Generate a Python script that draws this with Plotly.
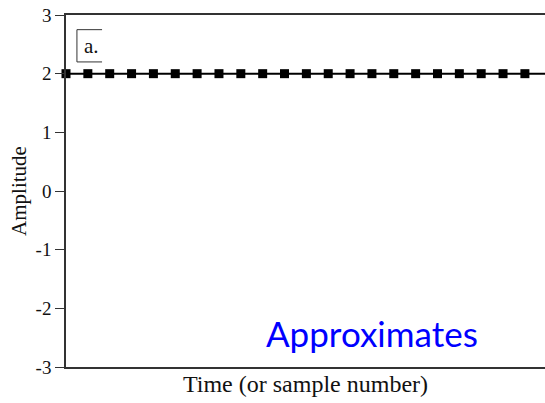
import plotly.graph_objects as go

sample_index = [0, 1, 2, 3, 4, 5, 6, 7, 8, 9, 10, 11, 12, 13, 14, 15, 16, 17, 18, 19, 20, 21, 22]
amplitude = [2, 2, 2, 2, 2, 2, 2, 2, 2, 2, 2, 2, 2, 2, 2, 2, 2, 2, 2, 2, 2, 2, 2]
y_ticks = [-3, -2, -1, 0, 1, 2, 3]
y_tick_labels = ["-3", "-2", "-1", "0", "1", "2", "3"]
panel_label = "a."
overlay_text = "Approximates"

fig = go.Figure()
fig.add_trace(go.Scatter(
    x=sample_index, y=amplitude, mode="lines+markers",
    line=dict(color="black", width=2),
    marker=dict(symbol="square", size=9, color="black"),
    cliponaxis=False, showlegend=False,
))

serif = "Liberation Serif, Times New Roman, serif"
fig.update_layout(
    width=545, height=403,
    margin=dict(l=66, r=0, t=15, b=36),
    paper_bgcolor="white", plot_bgcolor="white",
    xaxis=dict(range=[0, 21.92], showgrid=False, zeroline=False, showticklabels=False,
               ticks="", showline=True, linecolor="#333", linewidth=1.5, mirror=True,
               title=dict(text="Time (or sample number)", font=dict(family=serif, size=24, color="#111"), standoff=7)),
    yaxis=dict(range=[-3, 3], tickvals=y_ticks, ticktext=y_tick_labels, showgrid=False, zeroline=False,
               ticks="outside", ticklen=9, tickcolor="#333", tickwidth=1,
               showline=True, linecolor="#333", linewidth=1.5,
               tickfont=dict(family=serif, size=19, color="#111"),
               title=dict(text="Amplitude", font=dict(family=serif, size=21, color="#111"), standoff=3)),
)

# panel label box (open on the right)
box_x0, box_x1, box_y0, box_y1 = 0.5, 1.65, 2.2, 2.75
for (xa, ya, xb, yb) in [(box_x0, box_y1, box_x1, box_y1), (box_x0, box_y0, box_x1, box_y0), (box_x0, box_y0, box_x0, box_y1)]:
    fig.add_shape(type="line", x0=xa, y0=ya, x1=xb, y1=yb, xref="x", yref="y",
                  line=dict(color="#333", width=1))
fig.add_annotation(x=0.72, y=2.48, xref="x", yref="y", text=panel_label, showarrow=False,
                   xanchor="left", font=dict(family=serif, size=21, color="#111"))

fig.add_annotation(x=0.639, y=0.097, xref="paper", yref="paper", text=overlay_text, showarrow=False,
                   xanchor="center", yanchor="middle", font=dict(family="Lato, sans-serif", size=35, color="#0000ff"))

fig.write_html("out.html")
